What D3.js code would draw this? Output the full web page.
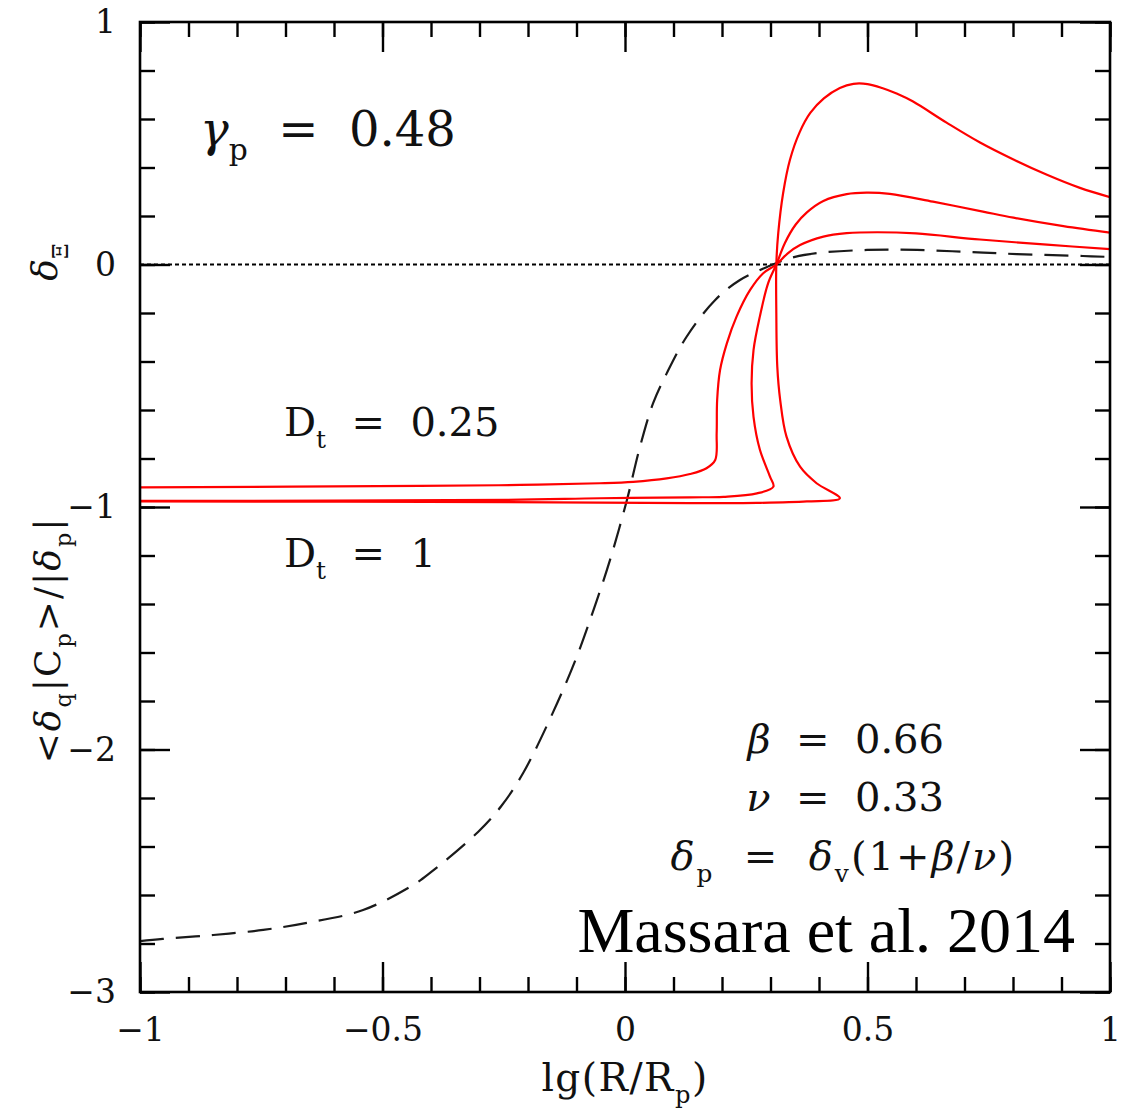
<!DOCTYPE html>
<html>
<head>
<meta charset="utf-8">
<script src="https://cdn.jsdelivr.net/npm/d3@7"></script>
<style>
  body { margin: 0; background: #fff; }
  text { font-family: "DejaVu Serif", serif; fill: #111; white-space: pre; }
</style>
</head>
<body>
<svg id="chart" width="1127" height="1115"></svg>
<script>
// axis ticks
var xMajor = [-1, -0.5, 0, 0.5, 1];
var xMajorLabels = ["\u22121", "\u22120.5", "0", "0.5", "1"];
var yMajor = [-3, -2, -1, 0, 1];
var yMajorLabels = ["\u22123", "\u22122", "\u22121", "0", "1"];

// dashed black curve (x, y)
var dashedX = [-1, -0.953, -0.849, -0.746, -0.656, -0.540, -0.437, -0.402, -0.303, -0.255, -0.210, -0.148,
  -0.100, -0.065, -0.031, 0.004, 0.031, 0.058, 0.086, 0.127, 0.186, 0.237, 0.293, 0.340, 0.396, 0.499,
  0.602, 0.705, 0.808, 0.944, 1];
var dashedY = [-2.790, -2.781, -2.765, -2.744, -2.715, -2.662, -2.559, -2.509, -2.340, -2.233, -2.097, -1.845,
  -1.620, -1.425, -1.219, -0.971, -0.751, -0.572, -0.449, -0.298, -0.146, -0.064, -0.010, 0.026, 0.047, 0.060,
  0.060, 0.052, 0.043, 0.035, 0.031];

// red curves, traced along the path (x is not monotonic)
// D_t = 0.25
var redAx = [-1, -0.423, -0.216, -0.052, 0.017, 0.086, 0.134, 0.168, 0.186, 0.189, 0.190, 0.196, 0.210,
  0.230, 0.258, 0.285, 0.312, 0.335, 0.361, 0.409, 0.457, 0.520, 0.600, 0.732, 0.870, 1];
var redAy = [-0.919, -0.913, -0.909, -0.902, -0.896, -0.882, -0.864, -0.840, -0.806, -0.696, -0.559, -0.435,
  -0.325, -0.215, -0.105, -0.036, 0, 0.045, 0.080, 0.115, 0.129, 0.133, 0.128, 0.103, 0.082, 0.063];
// middle curve
var redBx = [-1, -0.243, -0.052, 0.134, 0.203, 0.272, 0.306, 0.299, 0.278, 0.265, 0.261, 0.265, 0.278,
  0.295, 0.312, 0.330, 0.352, 0.375, 0.409, 0.457, 0.498, 0.546, 0.635, 0.738, 0.801, 0.904, 1];
var redBy = [-0.975, -0.971, -0.964, -0.960, -0.958, -0.944, -0.916, -0.875, -0.763, -0.628, -0.490, -0.353,
  -0.215, -0.078, 0, 0.090, 0.165, 0.215, 0.262, 0.290, 0.296, 0.291, 0.259, 0.218, 0.193, 0.158, 0.131];
// D_t = 1
var redCx = [-1, -0.240, 0.134, 0.272, 0.375, 0.443, 0.395, 0.361, 0.333, 0.320, 0.314, 0.312, 0.312,
  0.316, 0.326, 0.340, 0.360, 0.382, 0.410, 0.443, 0.471, 0.500, 0.530, 0.560, 0.594, 0.663, 0.732, 0.801,
  0.870, 0.938, 1];
var redCy = [-0.977, -0.980, -0.984, -0.983, -0.977, -0.964, -0.902, -0.834, -0.710, -0.559, -0.421, -0.200, 0,
  0.130, 0.294, 0.431, 0.545, 0.625, 0.685, 0.728, 0.745, 0.744, 0.728, 0.705, 0.672, 0.585, 0.503, 0.433,
  0.370, 0.316, 0.278];

var svg = d3.select("#chart");
var pL = 140, pT = 22, pR = 1110, pB = 992;

var x = d3.scaleLinear().domain([-1, 1]).range([pL, pR]);
var y = d3.scaleLinear().domain([-3, 1]).range([pB, pT]);

svg.append("clipPath").attr("id", "clip")
  .append("rect").attr("x", pL).attr("y", pT)
  .attr("width", pR - pL).attr("height", pB - pT);

var plot = svg.append("g").attr("clip-path", "url(#clip)");

var line = d3.line()
  .x(function(d) { return x(d[0]); })
  .y(function(d) { return y(d[1]); });

// zero line
plot.append("path")
  .datum([[-1, 0], [1, 0]])
  .attr("d", line)
  .attr("fill", "none")
  .attr("stroke", "#000")
  .attr("stroke-width", 2)
  .attr("stroke-dasharray", "4,3");

// dashed curve
plot.append("path")
  .datum(d3.zip(dashedX, dashedY))
  .attr("d", line.curve(d3.curveCatmullRom.alpha(0.5)))
  .attr("fill", "none")
  .attr("stroke", "#1a1a1a")
  .attr("stroke-width", 2.2)
  .attr("stroke-dasharray", "24,12");

var reds = [d3.zip(redAx, redAy), d3.zip(redBx, redBy), d3.zip(redCx, redCy)];
plot.selectAll(".red")
  .data(reds)
  .enter().append("path")
  .attr("class", "red")
  .attr("d", line.curve(d3.curveCatmullRom.alpha(0.5)))
  .attr("fill", "none")
  .attr("stroke", "#ff0000")
  .attr("stroke-width", 2.2);

// axes: ticks pointing inward on all four sides
var xMinor = x.ticks(20);
var yMinor = y.ticks(20);

function styleAxis(g) {
  g.select(".domain").remove();
  g.selectAll(".tick line").attr("stroke", "#000").attr("stroke-width", 2.4);
  g.selectAll("text").attr("font-size", 33).style("fill", "#111");
}

svg.append("g").attr("transform", "translate(0," + pB + ")")
  .call(d3.axisBottom(x).tickValues(xMinor).tickSize(-15).tickFormat(""))
  .call(styleAxis);
svg.append("g").attr("transform", "translate(0," + pB + ")")
  .call(d3.axisBottom(x).tickValues(xMajor).tickSize(-30).tickPadding(26)
    .tickFormat(function(d, i) { return xMajorLabels[i]; }))
  .call(styleAxis);
svg.append("g").attr("transform", "translate(0," + pT + ")")
  .call(d3.axisTop(x).tickValues(xMinor).tickSize(-15).tickFormat(""))
  .call(styleAxis);
svg.append("g").attr("transform", "translate(0," + pT + ")")
  .call(d3.axisTop(x).tickValues(xMajor).tickSize(-30).tickFormat(""))
  .call(styleAxis);

svg.append("g").attr("transform", "translate(" + pL + ",0)")
  .call(d3.axisLeft(y).tickValues(yMinor).tickSize(-15).tickFormat(""))
  .call(styleAxis);
svg.append("g").attr("transform", "translate(" + pL + ",0)")
  .call(d3.axisLeft(y).tickValues(yMajor).tickSize(-30).tickPadding(24)
    .tickFormat(function(d, i) { return yMajorLabels[i]; }))
  .call(styleAxis);
svg.append("g").attr("transform", "translate(" + pR + ",0)")
  .call(d3.axisRight(y).tickValues(yMinor).tickSize(-15).tickFormat(""))
  .call(styleAxis);
svg.append("g").attr("transform", "translate(" + pR + ",0)")
  .call(d3.axisRight(y).tickValues(yMajor).tickSize(-30).tickFormat(""))
  .call(styleAxis);

svg.append("rect")
  .attr("x", pL).attr("y", pT)
  .attr("width", pR - pL).attr("height", pB - pT)
  .attr("fill", "none").attr("stroke", "#000").attr("stroke-width", 2.6);

// text with subscripts
function rich(parent, parts, size) {
  var t = parent.append("text").attr("font-size", size);
  var shift = 0;
  parts.forEach(function(p) {
    var s = p.sub ? size * 0.3 : 0;
    t.append("tspan")
      .attr("dy", s - shift)
      .attr("font-size", p.sub ? size * 0.62 : size)
      .attr("font-style", p.it ? "italic" : null)
      .text(p.t);
    shift = s;
  });
  return t;
}

rich(svg, [{t: "\u03b3", it: true}, {t: "p", sub: true}, {t: "  =  0.48"}], 48)
  .attr("x", 200).attr("y", 146);
rich(svg, [{t: "D"}, {t: "t", sub: true}, {t: "  =  0.25"}], 40)
  .attr("x", 284).attr("y", 436);
rich(svg, [{t: "D"}, {t: "t", sub: true}, {t: "  =  1"}], 40)
  .attr("x", 284).attr("y", 567);
rich(svg, [{t: "\u03b2", it: true}, {t: "  =  0.66"}], 40)
  .attr("x", 944).attr("y", 753).attr("text-anchor", "end");
rich(svg, [{t: "\u03bd", it: true}, {t: "  =  0.33"}], 40)
  .attr("x", 944).attr("y", 811).attr("text-anchor", "end");
rich(svg, [{t: "\u03b4", it: true}, {t: "p", sub: true}, {t: "  =  "}, {t: "\u03b4", it: true},
  {t: "v", sub: true}, {t: "(1+"}, {t: "\u03b2", it: true}, {t: "/"}, {t: "\u03bd", it: true}, {t: ")"}], 40)
  .attr("x", 1016).attr("y", 870).attr("text-anchor", "end")
  .style("letter-spacing", "2px");

svg.append("text")
  .attr("x", 1075).attr("y", 952)
  .attr("text-anchor", "end")
  .attr("font-size", 64)
  .style("font-family", "'Liberation Serif', 'Times New Roman', serif")
  .style("fill", "#000")
  .text("Massara et al. 2014");

// axis titles
rich(svg, [{t: "lg(R/R"}, {t: "p", sub: true}, {t: ")"}], 39)
  .attr("x", 625).attr("y", 1091).attr("text-anchor", "middle")
  .style("letter-spacing", "1.5px");

rich(svg, [{t: "<"}, {t: "\u03b4", it: true}, {t: "q", sub: true}, {t: "|C"}, {t: "p", sub: true},
  {t: ">/|"}, {t: "\u03b4", it: true}, {t: "p", sub: true}, {t: "|"}], 36)
  .attr("text-anchor", "middle")
  .attr("transform", "translate(60,640) rotate(-90)")
  .style("letter-spacing", "2px");

rich(svg, [{t: "\u03b4", it: true}, {t: "\u039e", sub: true}], 36)
  .attr("text-anchor", "middle")
  .attr("transform", "translate(57,262) rotate(-90)");
</script>
</body>
</html>
